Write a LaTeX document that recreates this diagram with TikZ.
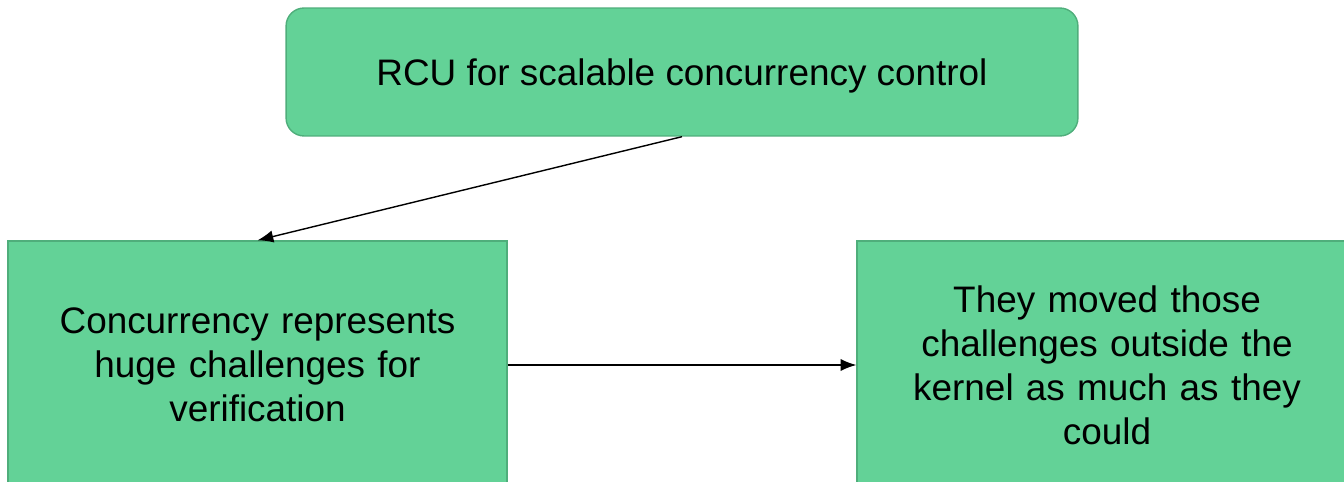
\documentclass[tikz,border=0pt]{standalone}
\usepackage{fontspec}
\setmainfont{Liberation Sans}
\usepackage{tikz}
\usetikzlibrary{arrows.meta}
\definecolor{boxfill}{RGB}{99, 210, 151}
\definecolor{boxline}{RGB}{79, 174, 123}

\tikzset{
  box/.style={draw=boxline, fill=boxfill, line width=0.8pt, align=center,
              font=\fontsize{21}{25}\selectfont, inner sep=0pt},
  link/.style={line width=0.8pt, -{Latex[length=9pt, width=7pt]}}
}

\begin{document}
\begin{tikzpicture}[x=0.02cm, y=-0.02cm]
  \useasboundingbox (0, 0) rectangle (1344, 482);

  % top idea
  \node[box, rounded corners=0.36cm, minimum width=15.84cm, minimum height=2.56cm,
        text depth=0pt]
    (rcu) at (682, 72) {RCU for scalable concurrency control};

  % two consequences, running off the bottom
  \node[box, minimum width=9.98cm, minimum height=4.96cm, text width=9cm]
    (hard) at (257.5, 365) {Concurrency represents\\huge challenges for\\verification};
  \node[box, minimum width=10cm, minimum height=4.96cm, text width=9cm]
    (moved) at (1107, 365) {They moved those\\challenges outside the\\kernel as much as they\\could};

  \draw[link] (rcu.south) -- (hard.north);
  \draw[link] (hard.east) -- (moved.west);
\end{tikzpicture}
\end{document}
